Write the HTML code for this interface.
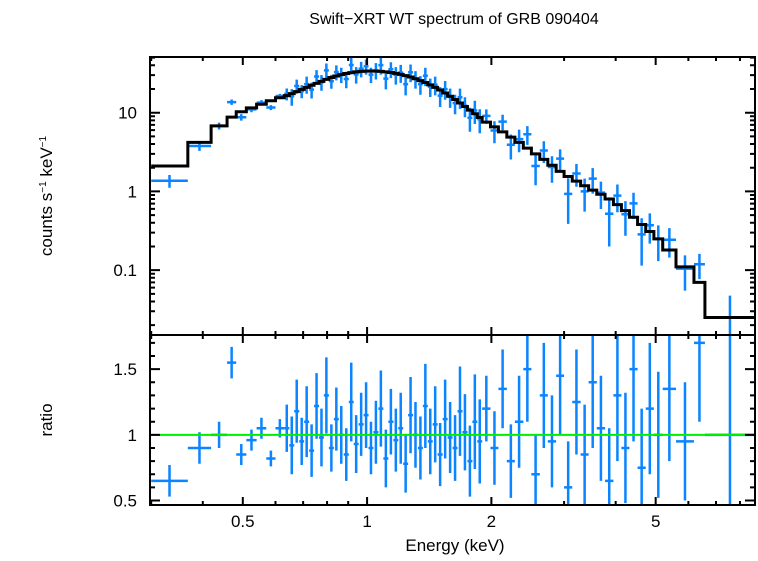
<!DOCTYPE html>
<html><head><meta charset="utf-8"><style>
body{margin:0;background:#fff}
svg text{font-family:"Liberation Sans",sans-serif;fill:#000}
</style></head><body>
<svg id="c" width="758" height="556" viewBox="0 0 758 556" xmlns="http://www.w3.org/2000/svg">
<text x="454" y="24" font-size="16" text-anchor="middle">Swift−XRT WT spectrum of GRB 090404</text>
<text transform="translate(52,196) rotate(-90)" font-size="17" text-anchor="middle">counts s<tspan font-size="10" dy="-6">−1</tspan><tspan dy="6"> keV</tspan><tspan font-size="10" dy="-6">−1</tspan></text>
<text transform="translate(52,420) rotate(-90)" font-size="17" text-anchor="middle">ratio</text>
<text x="455" y="551" font-size="17" text-anchor="middle">Energy (keV)</text>
<defs><clipPath id="ct"><rect x="150" y="57" width="605" height="278"/></clipPath><clipPath id="cb"><rect x="150" y="335" width="605" height="170"/></clipPath></defs>
<g id="topPanel" clip-path="url(#ct)"></g>
<g id="botPanel" clip-path="url(#cb)"></g>
<g id="axes"></g>
</svg>
<script>
const edges=[0.30,0.368,0.419,0.458,0.482,0.51,0.54,0.57,0.60,
0.63,0.648,0.666,0.685,0.704,0.724,0.744,0.765,0.786,0.808,0.831,0.854,0.878,0.903,0.928,0.954,0.981,1.008,1.036,1.065,1.095,1.126,1.158,1.190,1.223,1.257,1.292,1.328,1.365,1.403,1.442,1.482,1.524,1.567,1.611,1.656,1.702,1.750,1.799,1.849,
1.90,1.99,2.08,2.18,2.28,2.39,2.50,2.62,2.74,2.87,3.00,3.14,3.29,3.44,3.60,3.77,3.95,4.13,4.32,4.52,4.73,4.95,5.20,5.60,6.19,6.58,8.70];
const model=[2.1,4.2,6.8,8.8,10.3,11.5,12.8,14.2,15.5,
16.5,17.5,18.5,19.8,21,22.3,23.6,25,26.5,28,29.3,30.5,31.5,32.3,33,33.5,33.8,33.9,33.8,33.5,33,32.4,31.6,30.7,29.6,28.4,27,25.6,24.2,22.6,21,19.4,17.8,16.2,14.7,13.3,12,10.8,9.7,8.7,
7.6,6.6,5.7,4.9,4.2,3.55,3.0,2.55,2.15,1.8,1.55,1.35,1.18,1.04,0.92,0.8,0.68,0.57,0.47,0.38,0.31,0.25,0.18,0.11,0.07,0.025];
const ratio=[0.65,0.9,1.0,1.55,0.85,0.96,1.05,0.82,1.05,
1.05,0.92,1.18,0.95,1.1,0.88,1.22,0.98,1.3,0.9,1.12,1.0,0.85,1.25,0.93,1.08,1.15,0.9,1.02,1.2,0.82,1.1,0.96,1.05,0.78,1.15,1.0,0.9,1.22,0.95,1.08,0.85,1.12,0.98,0.9,1.18,1.02,0.8,1.1,0.95,
1.2,0.9,1.35,0.8,1.1,1.5,0.7,1.3,0.95,1.45,0.6,1.25,0.85,1.4,1.05,0.65,1.3,0.9,1.5,0.75,1.2,1.0,1.35,0.95,1.7,1.0];
const ratioErr=[0.12,0.12,0.1,0.12,0.08,0.08,0.08,0.06,0.07,
0.18,0.22,0.24,0.18,0.27,0.2,0.25,0.22,0.29,0.18,0.24,0.22,0.2,0.3,0.22,0.24,0.25,0.2,0.24,0.29,0.22,0.25,0.24,0.27,0.22,0.29,0.25,0.24,0.32,0.25,0.29,0.24,0.3,0.27,0.25,0.34,0.29,0.27,0.36,0.32,
0.25,0.28,0.3,0.28,0.35,0.4,0.3,0.4,0.35,0.45,0.35,0.4,0.38,0.5,0.4,0.4,0.5,0.42,0.55,0.45,0.5,0.48,0.55,0.45,0.6,0.9];
const xTicksMajor=[0.5,1,2,5];
const xTickLabels=["0.5","1","2","5"];
const yTopMajor=[0.1,1,10];
const yTopLabels=["0.1","1","10"];
const yBotMajor=[0.5,1,1.5];
const yBotLabels=["0.5","1","1.5"];

const L=150,R=755,T=57,M=335,B=505;
const xl0=Math.log10(0.298),xl1=Math.log10(8.7);
const X=e=>L+(Math.log10(e)-xl0)/(xl1-xl0)*(R-L);
const yt0=Math.log10(0.015),yt1=Math.log10(51);
const YT=v=>M-(Math.log10(v)-yt0)/(yt1-yt0)*(M-T);
const YB=r=>B-(r-0.466)/(1.76-0.466)*(B-M);
const NS="http://www.w3.org/2000/svg";
function mk(p,tag,at){const e=document.createElementNS(NS,tag);for(const k in at)e.setAttribute(k,at[k]);p.appendChild(e);return e;}
const gTop=document.getElementById('topPanel'),gBot=document.getElementById('botPanel'),ax=document.getElementById('axes');
const blue="#0a84ff";
for(let i=0;i<model.length;i++){
  const x0=X(edges[i]),x1=X(edges[i+1]),xc=X(Math.sqrt(edges[i]*edges[i+1]));
  const d=model[i]*ratio[i],de=model[i]*ratioErr[i];
  let g=mk(gTop,'path',{d:`M${x0},${YT(d)}H${x1}M${xc},${YT(d+de)}V${d-de>0?YT(d-de):M+20}`,stroke:blue,'stroke-width':2.5,fill:'none'});
  
  
  let h=mk(gBot,'path',{d:`M${x0},${YB(ratio[i])}H${x1}M${xc},${YB(ratio[i]+ratioErr[i])}V${YB(ratio[i]-ratioErr[i])}`,stroke:blue,'stroke-width':2.5,fill:'none'});
  
  
}
let md="";
for(let i=0;i<model.length;i++){const y=YT(model[i]);md+=(i?"V":"M"+X(edges[0])+",")+y+"H"+X(edges[i+1]);}
const mp=mk(gTop,'path',{d:md,stroke:'#000','stroke-width':3,fill:'none'});


const gl=mk(gBot,'line',{x1:L,x2:R,y1:YB(1),y2:YB(1),stroke:'#00ee00','stroke-width':2});


const fr=mk(ax,'path',{d:`M${L},${T}H${R}V${B}H${L}ZM${L},${M}H${R}`,stroke:'#000','stroke-width':2,fill:'none'});


let td="";
for(let d=-1;d<=0;d++)for(let k=1;k<10;k++){const e=k*Math.pow(10,d);if(e<0.298||e>8.7)continue;const x=X(e);const maj=xTicksMajor.includes(e)||e===1;const len=maj?8:4;
 td+=`M${x},${T}v${len}M${x},${M}v${-len}M${x},${M}v${len}M${x},${B}v${-len}`;}
for(let d=-2;d<=1;d++)for(let k=1;k<10;k++){const v=k*Math.pow(10,d);if(v<0.015||v>51)continue;const y=YT(v);const len=k===1?10:5;td+=`M${L},${y}h${len}M${R},${y}h${-len}`;}
for(let r=0.5;r<=1.75;r+=0.1){const y=YB(r);const maj=Math.abs(r*2-Math.round(r*2))<1e-6;const len=maj?10:5;td+=`M${L},${y}h${len}M${R},${y}h${-len}`;}
const tk=mk(ax,'path',{d:td,stroke:'#000','stroke-width':2,fill:'none'});


xTicksMajor.forEach((e,i)=>{const t=mk(ax,'text',{x:X(e),y:527,'font-size':17,'text-anchor':'middle'});t.textContent=xTickLabels[i];
 
 });
yTopMajor.forEach((v,i)=>{const t=mk(ax,'text',{x:137,y:YT(v)+6,'font-size':17,'text-anchor':'end'});t.textContent=yTopLabels[i];
 
 });
yBotMajor.forEach((v,i)=>{const t=mk(ax,'text',{x:137,y:YB(v)+6,'font-size':17,'text-anchor':'end'});t.textContent=yBotLabels[i];
 
 });
</script>
</body></html>
